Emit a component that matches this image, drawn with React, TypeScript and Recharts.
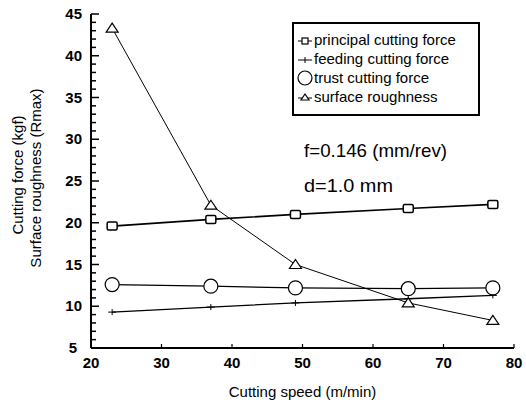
import React from "react";
import { LineChart, Line, XAxis, YAxis } from "recharts";

const speeds = [23, 37, 49, 65, 77];
const principal = [19.6, 20.4, 21.0, 21.7, 22.2];
const feeding = [9.3, 9.9, 10.4, 10.9, 11.3];
const trust = [12.6, 12.4, 12.2, 12.1, 12.2];
const roughness = [43.3, 22.1, 15.0, 10.4, 8.3];

const xTicks = [20, 30, 40, 50, 60, 70, 80];
const yTicks = Array.from({ length: 41 }, (_, i) => 5 + i);

const data = speeds.map((s, i) => ({
  speed: s,
  principal: principal[i],
  feeding: feeding[i],
  trust: trust[i],
  roughness: roughness[i],
}));

const FONT = "'Liberation Sans', Arial, sans-serif";

const Square = (p: any) => (
  <rect key={p.index} x={p.cx - 5} y={p.cy - 4} width={10} height={8} rx={1.5} fill="#fff" stroke="#000" strokeWidth={1.5} />
);
const Circle = (p: any) => (
  <circle key={p.index} cx={p.cx} cy={p.cy} r={7} fill="#fff" stroke="#000" strokeWidth={1.2} />
);
const Tri = (p: any) => (
  <path key={p.index} d={`M${p.cx},${p.cy - 5} L${p.cx + 6},${p.cy + 4} L${p.cx - 6},${p.cy + 4} Z`} fill="#fff" stroke="#000" strokeWidth={1.2} />
);
const Plus = (p: any) => (
  <path key={p.index} d={`M${p.cx - 4},${p.cy} H${p.cx + 4} M${p.cx},${p.cy - 3} V${p.cy + 3}`} stroke="#000" strokeWidth={1} />
);

const YTick = (p: any) => {
  const v = p.payload.value;
  const major = v % 5 === 0;
  const x = Number(p.x);
  const y = Number(p.y);
  return (
    <g>
      <path d={`M${x},${y} H${x + (major ? 8 : 5)}`} stroke="#000" strokeWidth={1.5} fill="none" />
      {major && (
        <text x={v === 5 ? x - 14 : x - 9} y={y + 5} textAnchor="end" fontFamily={FONT} fontSize={15} fontWeight="bold" fill="#000">
          {v}
        </text>
      )}
    </g>
  );
};

const XTick = (p: any) => {
  const x = Number(p.x);
  const y = Number(p.y);
  return (
    <g>
      <path d={`M${x},${y} V${y - 4}`} stroke="#000" strokeWidth={1.2} fill="none" />
      <text x={x} y={y + 20} textAnchor="middle" fontFamily={FONT} fontSize={15} fontWeight="bold" fill="#000">
        {p.payload.value}
      </text>
    </g>
  );
};

const legendItems = [
  { name: "principal cutting force", icon: "sq" },
  { name: "feeding cutting force", icon: "plus" },
  { name: "trust cutting force", icon: "circ" },
  { name: "surface roughness", icon: "tri" },
];

const LegendIcon = ({ icon }: { icon: string }) => {
  if (icon === "circ")
    return (
      <svg width={18} height={18}>
        <circle cx={9} cy={9} r={7} fill="none" stroke="#000" strokeWidth={1.2} />
      </svg>
    );
  return (
    <svg width={18} height={18}>
      <line x1={2} x2={16} y1={10} y2={10} stroke="#000" strokeWidth={1} />
      {icon === "sq" && <rect x={6} y={7} width={6} height={6} fill="#fff" stroke="#000" strokeWidth={1.2} />}
      {icon === "plus" && <line x1={9} x2={9} y1={7} y2={13} stroke="#000" strokeWidth={1} />}
      {icon === "tri" && <path d="M9,6 L13,12 L5,12 Z" fill="#fff" stroke="#000" strokeWidth={1.2} />}
    </svg>
  );
};

const LegendBox = () => (
  <div
    style={{
      position: "absolute",
      left: 292,
      top: 22,
      border: "2px solid #000",
      width: 182,
      padding: "6px 0 8px 2px",
      fontFamily: FONT,
      fontSize: 15,
      lineHeight: "19px",
      background: "#fff",
    }}
  >
    {legendItems.map((it) => (
      <div key={it.name} style={{ display: "flex", alignItems: "center", whiteSpace: "nowrap" }}>
        <LegendIcon icon={it.icon} />
        <span>{it.name}</span>
      </div>
    ))}
  </div>
);

const axisLine = { stroke: "#000", strokeWidth: 2 };

export default function App() {
  return (
    <div style={{ position: "absolute", left: 0, top: 0, width: 526, height: 408, background: "#fff" }}>
      <LineChart width={526} height={408} data={data} margin={{ top: 14, right: 12, left: 0, bottom: 0 }}>
        <XAxis
          dataKey="speed"
          type="number"
          domain={[20, 80]}
          ticks={xTicks}
          interval={0}
          tick={<XTick />}
          tickLine={false}
          tickSize={0}
          tickMargin={0}
          axisLine={axisLine}
          height={60}
          label={{ value: "Cutting speed (m/min)", position: "insideBottom", offset: 11, fontFamily: FONT, fontSize: 15, fill: "#000" }}
        />
        <XAxis xAxisId="top" orientation="top" dataKey="speed" type="number" domain={[20, 80]} tick={false} tickLine={false} axisLine={axisLine} height={0} />
        <YAxis
          type="number"
          domain={[5, 45]}
          ticks={yTicks}
          interval={0}
          tick={<YTick />}
          tickLine={false}
          tickSize={0}
          tickMargin={0}
          axisLine={axisLine}
          width={91}
          label={{
            content: () => (
              <g fontFamily={FONT} fontSize={15}>
                <text x={19} y={175} fill="#000" textAnchor="middle" transform="rotate(-90 19 175)" dominantBaseline="middle">
                  Cutting force (kgf)
                </text>
                <text x={37} y={178} fill="#000" textAnchor="middle" transform="rotate(-90 37 178)" dominantBaseline="middle">
                  Surface roughness (Rmax)
                </text>
              </g>
            ),
          }}
        />
        <YAxis yAxisId="right" orientation="right" type="number" domain={[5, 45]} tick={false} tickLine={false} axisLine={axisLine} width={0} />
        <Line dataKey="principal" stroke="#000" strokeWidth={1.6} dot={Square} isAnimationActive={false} />
        <Line dataKey="feeding" stroke="#000" strokeWidth={1.3} dot={Plus} isAnimationActive={false} />
        <Line dataKey="trust" stroke="#000" strokeWidth={1.3} dot={Circle} isAnimationActive={false} />
        <Line dataKey="roughness" stroke="#000" strokeWidth={1} dot={Tri} isAnimationActive={false} />
        <text x={304} y={157} fontFamily={FONT} fontSize={19} textLength={143} lengthAdjust="spacingAndGlyphs" fill="#000">
          f=0.146 (mm/rev)
        </text>
        <text x={304} y={192} fontFamily={FONT} fontSize={19} textLength={89} lengthAdjust="spacingAndGlyphs" fill="#000">
          d=1.0 mm
        </text>
      </LineChart>
      <LegendBox />
    </div>
  );
}
